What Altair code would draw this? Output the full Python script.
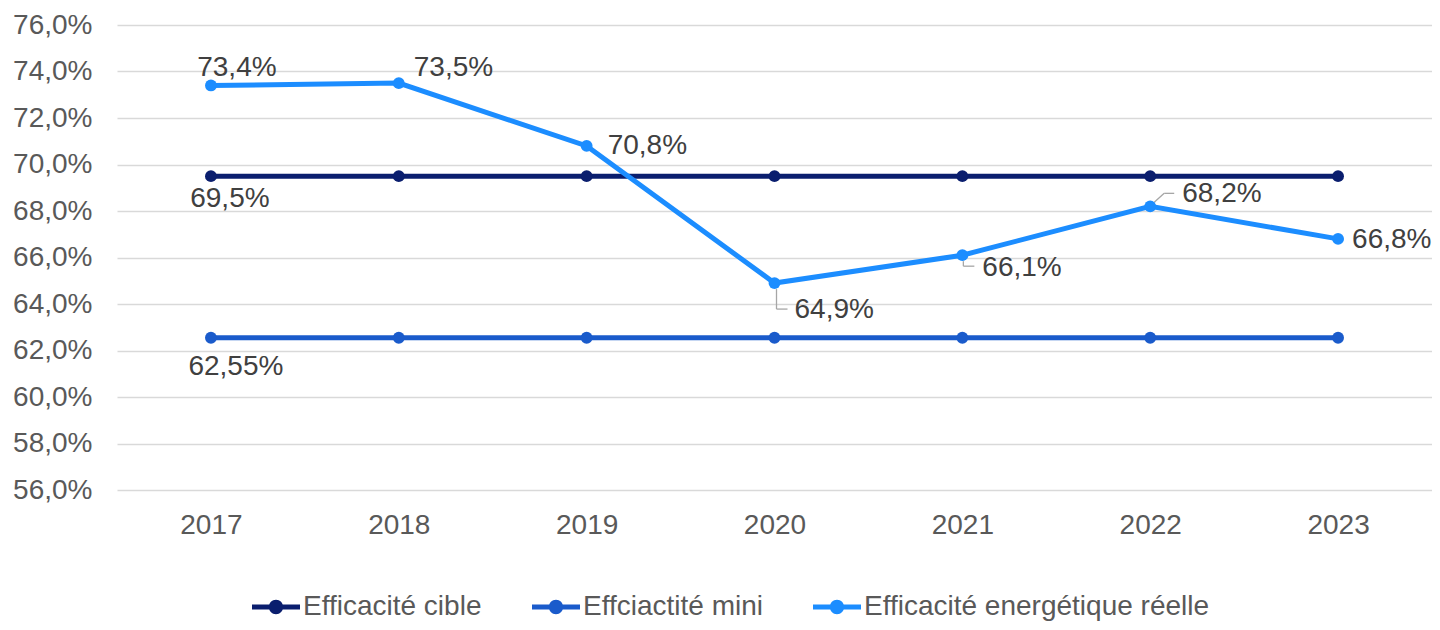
import altair as alt
import pandas as pd

years = ["2017", "2018", "2019", "2020", "2021", "2022", "2023"]
series_names = ["Efficacité cible", "Effciactité mini", "Efficacité energétique réelle"]
cible = [69.5, 69.5, 69.5, 69.5, 69.5, 69.5, 69.5]
mini = [62.55, 62.55, 62.55, 62.55, 62.55, 62.55, 62.55]
reelle = [73.4, 73.5, 70.8, 64.9, 66.1, 68.2, 66.8]
y_ticks = [56, 58, 60, 62, 64, 66, 68, 70, 72, 74, 76]
colors = ["#0A1E6E", "#1A5BCB", "#1C8DFF"]

rows = []
for name, vals in zip(series_names, [cible, mini, reelle]):
    for y, v in zip(years, vals):
        rows.append({"year": y, "series": name, "value": v})
df = pd.DataFrame(rows)

FONT = "Liberation Sans"
LABEL_COLOR = "#404040"
FS = 28

x_enc = alt.X("year:N", sort=years, title=None,
              scale=alt.Scale(type="point", padding=0.5),
              axis=alt.Axis(labelAngle=0, labelFontSize=FS, labelColor="#595959",
                            labelFont=FONT, labelPadding=21, ticks=False, domain=False,
                            grid=False))
y_enc = alt.Y("value:Q", title=None,
              scale=alt.Scale(domain=[56, 76], nice=False, zero=False),
              axis=alt.Axis(values=y_ticks, labelFontSize=FS, labelColor="#595959",
                            labelFont=FONT, labelPadding=25, ticks=False, domain=False,
                            gridColor="#D9D9D9", gridWidth=1.3,
                            labelExpr="replace(format(datum.value, '.1f'), '.', ',') + '%'"))

sym_path = ("M-1,-0.1 L1,-0.1 L1,0.1 L-1,0.1 Z "
            "M-0.3,0 A0.3,0.3 0 1,1 0.3,0 A0.3,0.3 0 1,1 -0.3,0 Z")

color_enc = alt.Color("series:N", sort=series_names,
                      scale=alt.Scale(domain=series_names, range=colors),
                      legend=alt.Legend(title=None, orient="none", direction="horizontal",
                                        legendX=135, legendY=558,
                                        symbolType=sym_path, symbolSize=2304,
                                        symbolStrokeWidth=0, labelFontSize=FS,
                                        labelFont=FONT, labelColor="#595959",
                                        labelOffset=3, columnPadding=50,
                                        labelLimit=500))

base = alt.Chart(df)

lines = base.mark_line(strokeWidth=5).encode(x=x_enc, y=y_enc, color=color_enc,
                                             order=alt.Order("year:N"))
points = base.mark_circle(size=140, opacity=1).encode(x=x_enc, y=y_enc, color=alt.Color(
    "series:N", scale=alt.Scale(domain=series_names, range=colors), legend=None))

label_expr = "replace(toString(datum.value), '.', ',') + '%'"


def label(series, year, dx, dy, align):
    return (base.transform_filter((alt.datum.series == series) & (alt.datum.year == year))
            .transform_calculate(lab=label_expr)
            .mark_text(dx=dx, dy=dy, align=align, baseline="middle", fontSize=FS,
                       font=FONT, color=LABEL_COLOR)
            .encode(x=alt.X("year:N", sort=years), y="value:Q", text="lab:N"))


labels = [
    label(series_names[0], "2017", 19, 23, "center"),
    label(series_names[1], "2017", 25, 29, "center"),
    label(series_names[2], "2017", 26, -17, "center"),
    label(series_names[2], "2018", 15, -15, "left"),
    label(series_names[2], "2019", 21, 0, "left"),
    label(series_names[2], "2020", 20, 27, "left"),
    label(series_names[2], "2021", 20, 13, "left"),
    label(series_names[2], "2022", 32, -12, "left"),
    label(series_names[2], "2023", 14, 1, "left"),
]


def leader(year, xo, x2o, yo, y2o):
    return (base.transform_filter((alt.datum.series == series_names[2]) & (alt.datum.year == year))
            .mark_rule(color="#A6A6A6", strokeWidth=1.3, xOffset=xo, x2Offset=x2o,
                       yOffset=yo, y2Offset=y2o)
            .encode(x=alt.X("year:N", sort=years), x2=alt.X2("year:N"),
                    y="value:Q", y2=alt.Y2("value:Q")))


leaders = [
    leader("2020", 2, 2, 6, 26),
    leader("2020", 2, 13, 26, 26),
    leader("2021", 1, 1, 6, 11),
    leader("2021", 1, 12, 11, 11),
    leader("2022", 4, 14, -4, -13),
    leader("2022", 14, 24, -13, -13),
]

chart = alt.layer(lines, *leaders, points, *labels).properties(
    width=1315, height=465,
    background="white",
    autosize=alt.AutoSizeParams(type="none"),
    padding={"left": 109, "top": 17, "right": 0, "bottom": 132},
).configure_view(stroke=None)

chart.save("out.html", embed_options={"renderer": "svg", "actions": False})
